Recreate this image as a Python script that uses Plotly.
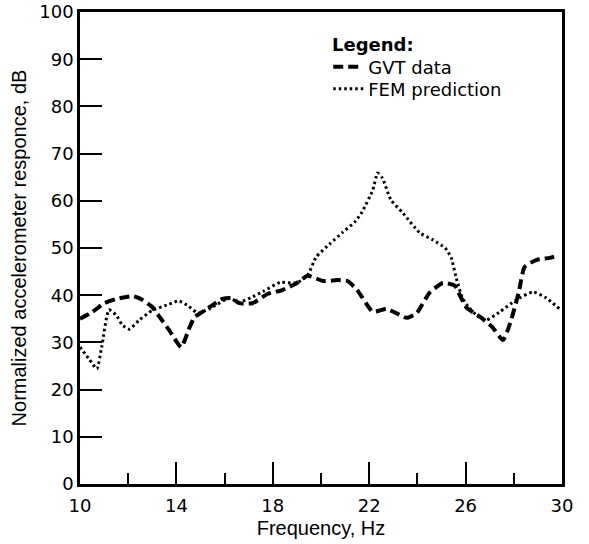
import plotly.graph_objects as go

# GVT data (dashed)
gvt_freq = [10.0, 10.5, 11.0, 11.5, 12.2, 12.6, 13.0, 13.3, 13.7, 14.2, 14.5, 14.75, 15.0, 15.5,
            15.9, 16.3, 16.6, 17.15, 17.8, 18.4, 19.0, 19.45, 20.1, 20.7, 21.1, 21.5, 22.15, 22.7,
            23.0, 23.55, 23.97, 24.5, 25.05, 25.55, 25.8, 26.05, 26.6, 27.1, 27.55, 27.85, 28.2,
            28.45, 28.95, 29.5, 29.85]
gvt_db = [35, 36.4, 38.3, 39.2, 39.8, 39, 37.5, 35.4, 32.6, 29.0, 32.6, 35.4, 36.2, 37.9,
          39.2, 39.4, 38.3, 38.3, 40.3, 41.1, 42.6, 44.1, 43, 43.2, 43, 41.1, 36.5, 37.1,
          36.5, 35.2, 36.2, 40.5, 42.6, 42, 39.6, 37.3, 35.4, 33.3, 30.5, 34.1, 40.5,
          46, 47.5, 47.9, 48.5]

# FEM prediction (dotted)
fem_freq = [10.0, 10.4, 10.7, 10.9, 11.2, 11.5, 11.75, 12.05, 12.45, 13.0, 13.6, 14.1, 14.5,
            14.9, 15.5, 16.2, 16.6, 17.1, 17.6, 18.3, 19.0, 19.45, 19.8, 20.35, 20.9, 21.4,
            21.7, 22.15, 22.35, 22.55, 22.9, 23.4, 24.1, 24.65, 25.15, 25.4, 25.6, 25.85,
            26.1, 26.45, 26.85, 27.4, 28.1, 28.8, 29.35, 29.9]
fem_db = [29, 26.3, 24.4, 29, 36.9, 35.8, 33.7, 32.8, 34.7, 36.8, 37.9, 38.8, 37.7,
          36.2, 37.5, 39.4, 38.5, 39.5, 40.8, 42.7, 42.6, 44.3, 48.1, 50.8, 53.3, 55.5,
          57.6, 62.3, 65.9, 64.8, 60.2, 57.4, 53.2, 51.7, 50, 48, 43.9, 39.6,
          37.6, 35.8, 34.7, 36.4, 39, 40.7, 39.4, 37.1]

x_ticks = [10, 14, 18, 22, 26, 30]
x_minor = [12, 16, 20, 24, 28]
y_ticks = [0, 10, 20, 30, 40, 50, 60, 70, 80, 90, 100]

WIDE = "DejaVu Sans, Liberation Sans, Arial, sans-serif"
NARROW = "Liberation Sans, Arial, Helvetica, sans-serif"

fig = go.Figure()
fig.add_trace(go.Scatter(
    x=gvt_freq, y=gvt_db, mode="lines", name="GVT data", legend="legend",
    line=dict(color="black", width=4, dash="10px,5px", shape="spline", smoothing=0.5),
))
fig.add_trace(go.Scatter(
    x=fem_freq, y=fem_db, mode="lines", name="FEM prediction", legend="legend2",
    line=dict(color="black", width=3, dash="2.5px,3px", shape="spline", smoothing=0.5),
))

legend_common = dict(
    x=0.515, xanchor="left", yanchor="middle",
    bgcolor="rgba(0,0,0,0)", borderwidth=0, itemwidth=30,
    font=dict(family=WIDE, size=18, color="black"),
)

fig.update_layout(
    width=589, height=544,
    margin=dict(l=80, r=27, t=12, b=60, autoexpand=False),
    paper_bgcolor="white", plot_bgcolor="white",
    font=dict(family=WIDE, size=18, color="black"),
    showlegend=True,
    legend=dict(y=0.8835, **legend_common),
    legend2=dict(y=0.837, **legend_common),
    annotations=[dict(
        text="<b>Legend:</b>", xref="paper", yref="paper", x=0.519, y=0.932,
        xanchor="left", yanchor="middle", showarrow=False,
        font=dict(family=WIDE, size=18, color="black"),
    )],
    xaxis=dict(
        range=[10, 30], tickmode="array", tickvals=x_ticks, ticktext=[str(v) for v in x_ticks],
        ticks="inside", ticklen=22, tickwidth=2, tickcolor="black",
        minor=dict(tickmode="array", tickvals=x_minor, ticks="inside",
                   ticklen=11, tickwidth=2, tickcolor="black"),
        showline=True, linecolor="black", linewidth=2.5, mirror=True,
        showgrid=False, zeroline=False, automargin=False,
        ticklabelstandoff=4,
        title=dict(text="Frequency, Hz", standoff=6, font=dict(family=NARROW, size=20)),
        tickfont=dict(family=WIDE, size=18),
    ),
    yaxis=dict(
        range=[0, 100], tickmode="array", tickvals=y_ticks, ticktext=[str(v) for v in y_ticks],
        ticks="inside", ticklen=22, tickwidth=2, tickcolor="black",
        showline=True, linecolor="black", linewidth=2.5, mirror=True,
        showgrid=False, zeroline=False, automargin=False,
        title=dict(text="Normalized accelerometer responce, dB", standoff=8,
                   font=dict(family=NARROW, size=20)),
        tickfont=dict(family=WIDE, size=18),
    ),
)

fig.write_html("out.html")
